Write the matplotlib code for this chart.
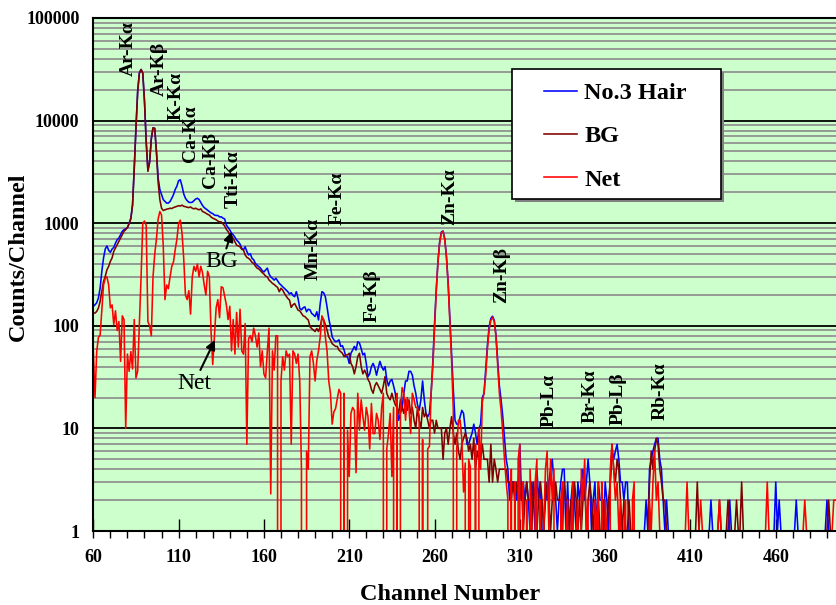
import matplotlib.pyplot as plt
import numpy as np
from matplotlib.patches import Rectangle
from matplotlib.ticker import FixedFormatter, FixedLocator, LogLocator, NullFormatter

plt.rcParams["font.family"] = ["Liberation Serif", "DejaVu Serif"]
plt.rcParams["font.weight"] = "bold"

# channels 60 .. 495, one count value per channel
channels = np.arange(60, 496)

hair_counts = [
    155, 160, 168, 187, 233, 340, 458, 560, 600, 545,  # 60
    520, 560, 580, 640, 690, 718, 773, 834, 865, 880,  # 70
    900, 1000, 1120, 1510, 3460, 8500, 19300, 29100, 31500, 29000,  # 80
    15500, 6300, 3300, 3970, 6700, 8500, 8400, 5000, 2750, 2130,  # 90
    1900, 1700, 1630, 1570, 1570, 1630, 1750, 1900, 2130, 2300,  # 100
    2600, 2650, 2300, 1930, 1750, 1660, 1600, 1590, 1600, 1660,  # 110
    1720, 1750, 1700, 1590, 1490, 1420, 1380, 1340, 1300, 1260,  # 120
    1240, 1200, 1190, 1190, 1150, 1155, 1120, 1100, 960, 910,  # 130
    860, 800, 770, 730, 685, 660, 625, 570, 550, 590,  # 140
    530, 490, 505, 455, 440, 405, 390, 377, 365, 345,  # 150
    335, 350, 365, 320, 300, 290, 279, 290, 275, 259,  # 160
    250, 240, 232, 223, 215, 204, 210, 198, 192, 215,  # 170
    185, 148, 143, 150, 153, 137, 145, 143, 132, 128,  # 180
    123, 137, 114, 165, 215, 210, 192, 153, 118, 98,  # 190
    78, 73, 70, 71, 73, 63, 64, 58, 50, 50,  # 200
    43, 54, 58, 63, 58, 70, 68, 60, 52, 54,  # 210
    43, 32, 34, 40, 43, 39, 33, 39, 45, 40,  # 220
    37, 40, 30, 26, 29, 30, 26, 22, 16, 12,  # 230
    14, 16, 22, 29, 29, 36, 36, 33, 26, 22,  # 240
    17, 15, 19, 29, 19, 14, 13, 14, 22, 45,  # 250
    105, 225, 425, 655, 820, 840, 700, 470, 260, 118,  # 260
    52, 24, 12, 11, 11, 13, 15, 14, 10, 7,  # 270
    7, 8, 9, 11, 9, 7, 10, 11, 20, 22,  # 280
    38, 65, 98, 118, 124, 113, 82, 47, 26, 19,  # 290
    13, 8, 5, 4, 2, 3, 3, 3, 2, 3,  # 300
    7, 2, 3, 2, 3, 2, 1, 3, 2, 1,  # 310
    4, 2, 3, 1, 1, 3, 2, 3, 4, 5,  # 320
    3, 2, 1, 2, 3, 4, 4, 1, 3, 1,  # 330
    2, 3, 2, 1, 3, 2, 3, 4, 2, 3,  # 340
    5, 3, 1, 2, 3, 1, 3, 2, 2, 1,  # 350
    3, 2, 1, 3, 6, 5, 6, 7, 5, 3,  # 360
    3, 2, 3, 3, 1, 1, 1, 1, 1, 1,  # 370
    1, 1, 1, 1, 2, 1, 4, 5, 6, 7,  # 380
    8, 8, 5, 4, 2, 1, 2, 1, 1, 1,  # 390
    1, 1, 1, 1, 1, 1, 1, 1, 1, 1,  # 400
    1, 1, 1, 1, 1, 1, 1, 1, 1, 1,  # 410
    1, 1, 2, 1, 1, 1, 1, 1, 1, 1,  # 420
    1, 1, 1, 2, 1, 1, 1, 1, 1, 1,  # 430
    1, 1, 1, 1, 1, 1, 1, 1, 1, 1,  # 440
    1, 1, 1, 1, 1, 1, 1, 1, 1, 1,  # 450
    3, 1, 2, 1, 1, 1, 1, 1, 1, 1,  # 460
    1, 1, 2, 1, 1, 1, 1, 1, 1, 1,  # 470
    1, 1, 1, 1, 1, 1, 1, 1, 1, 1,  # 480
    2, 1, 1, 1, 1, 1,  # 490
]

bg_counts = [
    133, 133, 138, 149, 173, 217, 271, 303, 352, 380,  # 60
    425, 458, 532, 573, 618, 666, 718, 773, 834, 865,  # 70
    910, 990, 1100, 1500, 3400, 8400, 19000, 29000, 31500, 29000,  # 80
    15500, 6200, 3200, 3900, 6600, 8500, 8400, 5000, 2500, 1700,  # 90
    1400, 1330, 1350, 1370, 1380, 1400, 1390, 1420, 1440, 1460,  # 100
    1480, 1470, 1500, 1460, 1450, 1430, 1420, 1440, 1400, 1380,  # 110
    1400, 1370, 1350, 1380, 1300, 1280, 1250, 1220, 1200, 1150,  # 120
    1120, 1100, 1080, 1050, 1030, 1030, 985, 940, 870, 830,  # 130
    770, 750, 710, 660, 612, 600, 590, 555, 550, 490,  # 140
    465, 455, 438, 415, 405, 382, 365, 358, 345, 330,  # 150
    320, 305, 300, 279, 270, 259, 253, 244, 237, 215,  # 160
    232, 223, 207, 195, 185, 178, 151, 160, 165, 153,  # 170
    142, 140, 132, 125, 123, 118, 114, 98, 94, 91,  # 180
    88, 94, 88, 98, 118, 114, 103, 91, 78, 73,  # 190
    67, 65, 63, 63, 58, 56, 54, 50, 52, 52,  # 200
    54, 43, 40, 34, 40, 50, 54, 40, 34, 37,  # 210
    34, 30, 28, 24, 22, 26, 28, 26, 24, 22,  # 220
    26, 32, 22, 20, 19, 22, 19, 17, 16, 14,  # 230
    19, 16, 14, 19, 15, 19, 14, 16, 12, 10,  # 240
    16, 12, 10, 16, 13, 14, 12, 10, 12, 12,  # 250
    9, 12, 10, 10, 10, 5, 9, 10, 7, 10,  # 260
    13, 9, 7, 9, 6, 5, 7, 8, 9, 8,  # 270
    6, 7, 5, 8, 4, 6, 5, 5, 7, 5,  # 280
    5, 5, 3, 7, 3, 5, 4, 3, 4, 4,  # 290
    4, 4, 4, 3, 3, 2, 3, 2, 3, 2,  # 300
    2, 3, 1, 2, 3, 2, 2, 1, 3, 2,  # 310
    1, 2, 3, 2, 1, 2, 3, 2, 1, 2,  # 320
    2, 3, 2, 2, 2, 1, 3, 2, 2, 1,  # 330
    2, 1, 3, 2, 1, 2, 1, 2, 3, 1,  # 340
    2, 3, 2, 1, 2, 1, 2, 1, 1, 2,  # 350
    1, 1, 2, 3, 7, 4, 3, 5, 4, 2,  # 360
    1, 2, 1, 1, 2, 1, 1, 1, 1, 1,  # 370
    1, 1, 1, 1, 1, 1, 3, 6, 4, 6,  # 380
    8, 7, 4, 3, 2, 2, 1, 1, 1, 1,  # 390
    1, 1, 1, 1, 1, 1, 1, 1, 1, 1,  # 400
    1, 1, 1, 1, 3, 1, 1, 1, 1, 1,  # 410
    1, 1, 1, 1, 1, 1, 1, 2, 1, 1,  # 420
    1, 1, 2, 1, 1, 1, 1, 2, 1, 1,  # 430
    3, 1, 1, 1, 1, 1, 1, 1, 1, 1,  # 440
    1, 1, 1, 1, 1, 1, 1, 1, 1, 1,  # 450
    1, 1, 1, 1, 1, 1, 1, 1, 1, 1,  # 460
    1, 1, 1, 1, 1, 1, 1, 1, 1, 1,  # 470
    1, 1, 1, 1, 1, 1, 1, 1, 1, 1,  # 480
    1, 2, 1, 1, 1, 1,  # 490
]

# 0 marks a net value below one count (drawn down to the axis)
net_counts = [
    56, 20, 56, 77, 81, 140, 250, 290, 300, 250,  # 60
    150, 160, 103, 140, 90, 110, 45, 125, 115, 10,  # 70
    53, 36, 56, 38, 115, 31, 36, 103, 300, 1000,  # 80
    1050, 950, 110, 100, 80, 300, 500, 700, 1100, 1300,  # 90
    1200, 600, 180, 250, 230, 300, 380, 420, 550, 700,  # 100
    1000, 1070, 800, 450, 200, 180, 220, 130, 300, 380,  # 110
    340, 400, 300, 380, 330, 250, 200, 340, 300, 89,  # 120
    42, 80, 150, 180, 120, 240, 235, 195, 160, 115,  # 130
    155, 57, 115, 53, 135, 62, 145, 57, 53, 105,  # 140
    7, 75, 80, 70, 95, 80, 62, 85, 40, 57,  # 150
    34, 31, 57, 95, 2.3, 57, 37, 80, 80, 0,  # 160
    29, 50, 37, 57, 50, 53, 7, 57, 53, 43,  # 170
    53, 29, 4, 0, 0, 6, 4, 50, 57, 43,  # 180
    29, 46, 57, 78, 125, 115, 78, 57, 29, 22,  # 190
    11, 14.5, 15.6, 19.5, 24, 22, 0, 22, 0, 9.6,  # 200
    3.4, 14, 16, 15, 3.7, 22, 9.6, 19, 13, 9.6,  # 210
    16, 13, 6.3, 17.5, 8.9, 8.9, 14, 12, 7.8, 16,  # 220
    22, 0, 6.3, 8.9, 14, 3.4, 16, 0, 22, 0,  # 230
    14, 25, 22, 12, 20, 16, 8.9, 22, 19, 16,  # 240
    16, 13, 0, 7.8, 0, 0, 6.3, 6.7, 22, 40,  # 250
    95, 215, 415, 645, 810, 830, 690, 460, 250, 108,  # 260
    45, 15, 0, 6.3, 12, 12, 7.8, 2.4, 4.6, 0,  # 270
    5, 4.2, 0, 0, 7, 0, 10, 4, 18, 22,  # 280
    33, 60, 92, 113, 121, 110, 78, 42, 22, 15,  # 290
    9, 5, 3, 2, 0, 4, 0, 3, 0, 5,  # 300
    7, 0, 3, 0, 2, 0, 4, 1, 0, 3,  # 310
    5, 0, 2, 0, 1, 4, 6, 1, 5, 2,  # 320
    4, 0, 1, 0, 2, 3, 0, 1, 2, 0,  # 330
    1, 3, 0, 1, 2, 0, 4, 2, 5, 1,  # 340
    2, 0, 1, 0, 2, 1, 3, 0, 3, 0,  # 350
    2, 1, 0, 4, 7, 4, 2, 3, 1, 2,  # 360
    0, 1, 2, 0, 1, 0, 2, 3, 0, 0,  # 370
    0, 0, 0, 0, 1, 0, 2, 1, 3, 6,  # 380
    2, 3, 1, 0, 0, 0, 1, 0, 0, 0,  # 390
    1, 1, 1, 1, 1, 1, 1, 1, 3, 1,  # 400
    1, 1, 1, 1, 1, 1, 2, 1, 1, 1,  # 410
    1, 1, 1, 1, 1, 1, 1, 2, 1, 1,  # 420
    1, 1, 1, 1, 1, 1, 1, 1, 1, 1,  # 430
    1, 1, 1, 1, 1, 1, 1, 1, 1, 1,  # 440
    1, 1, 1, 1, 1, 3, 1, 1, 1, 1,  # 450
    1, 1, 1, 1, 1, 1, 1, 1, 1, 1,  # 460
    1, 1, 1, 1, 1, 1, 1, 2, 1, 1,  # 470
    1, 1, 1, 1, 1, 1, 1, 1, 1, 1,  # 480
    1, 1, 1, 1, 2, 2,  # 490
]

peak_names = [
    "Ar-Kα", "Ar-Kβ", "K-Kα", "Ca-Kα", "Ca-Kβ", "Tti-Kα", "Mn-Kα", "Fe-Kα",
    "Fe-Kβ", "Zn-Kα", "Zn-Kβ", "Pb-Lα", "Br-Kα", "Pb-Lβ", "Rb-Kα",
]
peak_channels = [80.3, 98.6, 108.4, 116.9, 128.4, 141.9, 188.8, 202.9,
                 223.4, 269.1, 299.6, 327.2, 351.2, 367.6, 392.3]
peak_label_base = [27200, 17500, 10100, 3950, 2200, 1405, 279, 960,
                   109, 960, 167, 10.3, 11.3, 10.8, 12.1]

x_ticks = [60, 110, 160, 210, 260, 310, 360, 410, 460]
x_tick_labels = ["60", "110", "160", "210", "260", "310", "360", "410", "460"]
y_ticks = [1, 10, 100, 1000, 10000, 100000]
y_tick_labels = ["1", "10", "100", "1000", "10000", "100000"]

series_names = ["No.3 Hair", "BG", "Net"]
series_colors = ["#0000ff", "#800000", "#ff0000"]

W, H = 836, 605
fig = plt.figure(figsize=(W / 100, H / 100), dpi=100)
ax = fig.add_axes([93.3 / W, 74 / H, 742.7 / W, 513 / H])
ax.set_facecolor("#ccffcc")

for values, name, color in zip([hair_counts, bg_counts, net_counts], series_names, series_colors):
    ax.plot(channels, values, color=color, lw=1.15, label=name)

ax.set_yscale("log", nonpositive="clip")
ax.set_ylim(1, 100000)
ax.set_xlim(60, 495.3)

ax.yaxis.set_major_locator(FixedLocator(y_ticks))
ax.yaxis.set_major_formatter(FixedFormatter(y_tick_labels))
ax.yaxis.set_minor_locator(LogLocator(base=10, subs=np.arange(2, 10)))
ax.yaxis.set_minor_formatter(NullFormatter())
ax.xaxis.set_major_locator(FixedLocator(x_ticks))
ax.xaxis.set_major_formatter(FixedFormatter(x_tick_labels))
ax.xaxis.set_minor_locator(FixedLocator(np.arange(60, 496, 10)))
ax.xaxis.remove_overlapping_locs = False

ax.set_axisbelow(True)
ax.grid(which="major", axis="y", color="black", lw=1.3)
ax.grid(which="minor", axis="y", color="#8a8a8a", lw=1.2)

ax.tick_params(axis="y", which="both", length=0, pad=10, labelsize=13)
ax.tick_params(axis="x", which="major", direction="in", length=9, width=1,
               pad=13, labelsize=13)
ax.tick_params(axis="x", which="minor", direction="out", length=5, width=1)
for lbl in ax.get_xticklabels() + ax.get_yticklabels():
    lbl.set_fontweight("bold")

ax.spines["right"].set_visible(False)
for side in ["left", "bottom", "top"]:
    ax.spines[side].set_linewidth(1.5)

for name, ch, base in zip(peak_names, peak_channels, peak_label_base):
    ax.text(ch, base, name, rotation=90, ha="center", va="bottom",
            fontsize=14, fontweight="bold")

arrow = dict(arrowstyle="-|>", color="black", lw=1.5, mutation_scale=14, shrinkA=0, shrinkB=0)
ax.annotate("BG", xy=(141.1, 826), xytext=(135.5, 421), ha="center", va="center",
            fontsize=17, fontweight="normal", arrowprops=arrow)
ax.annotate("Net", xy=(131.3, 72.8), xytext=(119.0, 27.5), ha="center", va="center",
            fontsize=17, fontweight="normal", arrowprops=arrow)

# legend box with a grey shadow
box_l, box_r, box_t, box_b = 512, 721, 69, 199
shadow = Rectangle(((box_l + 3) / W, 1 - (box_b + 3) / H), (box_r - box_l) / W,
                   (box_b - box_t) / H, transform=fig.transFigure,
                   facecolor="#808080", edgecolor="none", zorder=5)
frame = Rectangle((box_l / W, 1 - box_b / H), (box_r - box_l) / W, (box_b - box_t) / H,
                  transform=fig.transFigure, facecolor="white", edgecolor="black",
                  lw=1.2, zorder=6)
fig.add_artist(shadow)
fig.add_artist(frame)
leg = ax.legend(loc="upper left", bbox_to_anchor=(544 / W, 1 - 82 / H),
                bbox_transform=fig.transFigure, frameon=False, fontsize=17.5,
                handlelength=1.36, handletextpad=0.3, labelspacing=0.88,
                borderpad=0, borderaxespad=0)
leg.set_zorder(7)
fig.add_artist(leg)

fig.text(18 / W, 1 - 257 / H, "Counts/Channel", rotation=90, ha="center",
         va="center", fontsize=17.5, fontweight="bold")
fig.text(450 / W, 1 - 595 / H, "Channel Number", ha="center", va="center",
         fontsize=17.5, fontweight="bold")

fig.savefig("out.png", dpi=100)
